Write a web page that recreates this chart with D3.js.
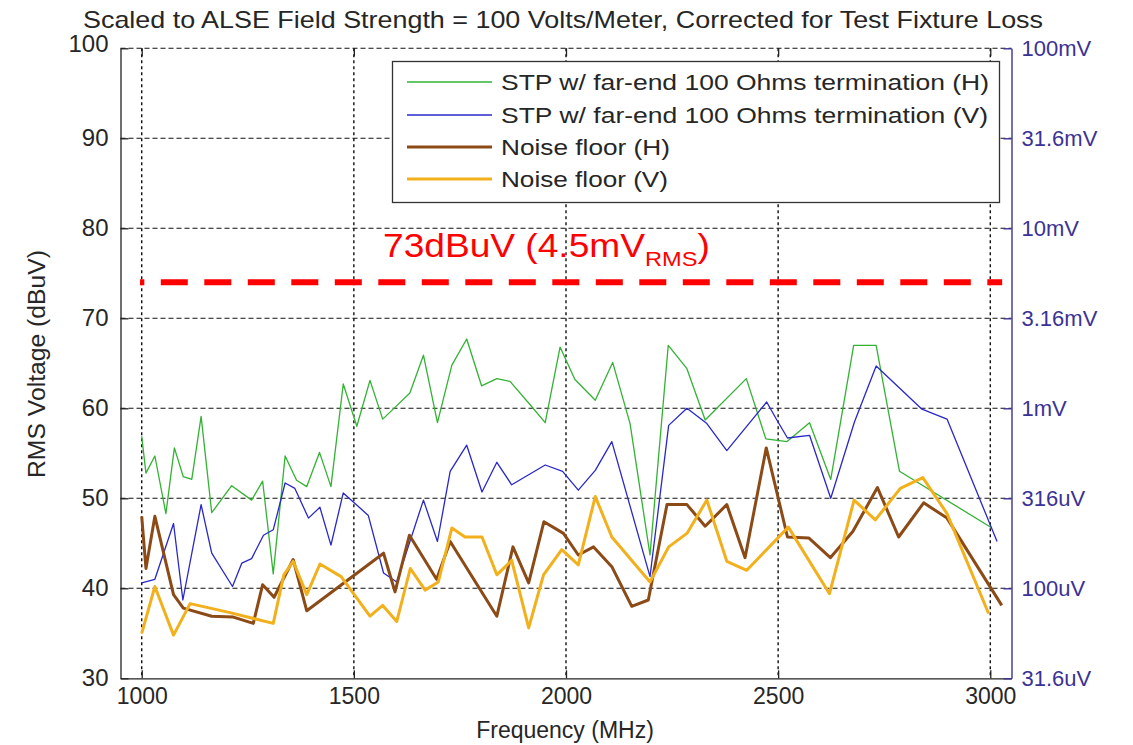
<!DOCTYPE html>
<html><head><meta charset="utf-8">
<script src="https://cdn.jsdelivr.net/npm/d3@7"></script>
<style>
body{margin:0;background:#fff}
text{font-family:"Liberation Sans",Arial,sans-serif}
</style>
</head><body>
<svg id="chart" width="1133" height="745"></svg>
<script>
// ---------------- data ----------------
const freqTicks = [1000, 1500, 2000, 2500, 3000];
const dbTicks = [30, 40, 50, 60, 70, 80, 90, 100];
const rightTickLabels = ["31.6uV", "100uV", "316uV", "1mV", "3.16mV", "10mV", "31.6mV", "100mV"];
const seriesNames = [
  "STP w/ far-end 100 Ohms termination (H)",
  "STP w/ far-end 100 Ohms termination (V)",
  "Noise floor (H)",
  "Noise floor (V)"
];
const titleText = "Scaled to ALSE Field Strength = 100 Volts/Meter, Corrected for Test Fixture Loss";
const xLabel = "Frequency (MHz)";
const yLabel = "RMS Voltage (dBuV)";
const limitValue = 74;
const limitRange = [996, 3028];

const stpH_freq = [1000,1010,1031,1057,1077,1098,1118,1140,1165,1212,1259,1285,1310,1338,1365,1389,1419,1446,1475,1507,1538,1568,1597,1632,1664,1697,1731,1766,1801,1837,1868,1919,1951,1986,2021,2069,2110,2151,2198,2241,2285,2328,2425,2471,2521,2574,2624,2678,2731,2786,3004];
const stpH_val  = [56.9,52.8,54.7,48.3,55.6,52.4,52.1,59.1,48.4,51.4,49.8,51.9,41.6,54.7,52.0,51.3,55.1,51.3,62.7,58.0,63.1,58.8,60.1,61.7,65.9,58.4,64.8,67.7,62.5,63.3,63.0,60.2,58.4,66.8,63.2,60.9,65.1,58.3,43.7,67.0,64.4,58.7,63.3,56.6,56.3,58.4,52.1,67.0,67.0,53.0,46.7];

const stpV_freq = [1000,1031,1075,1097,1140,1165,1214,1236,1259,1287,1310,1338,1361,1393,1420,1446,1475,1534,1570,1601,1664,1697,1727,1766,1802,1837,1872,1915,1951,1992,2029,2069,2108,2198,2242,2285,2332,2379,2473,2497,2522,2574,2624,2680,2731,2839,2898,3016];
const stpV_val  = [40.6,41.0,47.2,38.7,49.3,43.9,40.2,42.8,43.3,45.9,46.5,51.7,51.1,47.8,49.0,44.8,50.6,48.1,41.7,40.7,49.8,45.2,53.0,55.9,50.7,54.0,51.5,52.7,53.7,53.0,50.9,53.1,56.3,41.3,58.1,60.0,58.3,55.3,60.7,58.7,56.7,57.0,50.0,58.5,64.7,59.9,58.8,45.2];

const noiseH_freq = [1000,1010,1031,1075,1098,1165,1216,1263,1285,1312,1357,1389,1570,1597,1631,1695,1727,1837,1875,1912,1948,1994,2029,2065,2108,2155,2194,2238,2285,2328,2379,2422,2472,2522,2572,2623,2676,2734,2784,2843,2898,3027];
const noiseH_val  = [48.0,42.2,48.0,39.3,37.8,36.9,36.8,36.1,40.4,39.0,43.2,37.5,43.9,39.6,45.9,41.0,45.2,36.9,44.6,40.6,47.4,46.1,43.7,44.6,42.4,38.0,38.7,49.3,49.3,46.9,49.3,43.4,55.6,45.7,45.6,43.4,46.3,51.2,45.7,49.5,47.8,38.1];

const noiseV_freq = [1000,1031,1075,1114,1208,1310,1335,1357,1389,1420,1470,1538,1568,1601,1633,1668,1699,1731,1762,1802,1837,1872,1912,1947,1990,2029,2069,2108,2198,2242,2285,2332,2379,2426,2524,2621,2679,2729,2788,2841,2898,2996];
const noiseV_val  = [35.0,40.2,34.8,38.3,37.3,36.1,41.5,43.0,39.3,42.7,41.3,36.9,38.1,36.3,42.2,39.8,40.7,46.7,45.7,45.7,41.5,43.1,35.6,41.5,44.3,42.6,50.2,45.7,40.7,44.6,46.1,49.8,43.0,42.0,46.8,39.4,49.8,47.6,51.1,52.3,48.3,37.2];

// ---------------- drawing ----------------
const colors = ["#33b233", "#2828c8", "#8b4a16", "#f2b01c"];
const widths = [1.3, 1.3, 3, 3];
const rightColor = "#3a3294";
const textColor = "#262626";

const svg = d3.select("#chart");
svg.append("rect").attr("width", 1133).attr("height", 745).attr("fill", "#fff");

const L = 120.5, R = 1011.5, T = 48.3, B = 678.3;
const x = d3.scaleLinear().domain([950, 3050]).range([L, R]);
const y = d3.scaleLinear().domain([30, 100]).range([B, T]);

function fit(sel, w) {
  sel.attr("textLength", w).attr("lengthAdjust", "spacingAndGlyphs");
}

// grid
const grid = svg.append("g");
grid.selectAll(".hg").data(dbTicks.filter(d => d > 30)).join("line")
  .attr("x1", L).attr("x2", R).attr("y1", d => y(d)).attr("y2", d => y(d))
  .attr("stroke", "#111").attr("stroke-width", 1.1).attr("stroke-dasharray", "5,3");
grid.selectAll(".vg").data(freqTicks).join("line")
  .attr("x1", d => x(d)).attr("x2", d => x(d)).attr("y1", T).attr("y2", B)
  .attr("stroke", "#111").attr("stroke-width", 1.4).attr("stroke-dasharray", "3,3");

// axes
const axL = svg.append("g").attr("transform", `translate(${L},0)`)
  .call(d3.axisLeft(y).tickValues(dbTicks).tickSize(-8).tickSizeOuter(0).tickPadding(12));
const axB = svg.append("g").attr("transform", `translate(0,${B})`)
  .call(d3.axisBottom(x).tickValues(freqTicks).tickSize(-8).tickSizeOuter(0).tickPadding(9).tickFormat(d3.format("d")));
const axT = svg.append("g").attr("transform", `translate(0,${T})`)
  .call(d3.axisTop(x).tickValues(freqTicks).tickSize(-8).tickFormat(""));
axT.select(".domain").remove();
const axR = svg.append("g").attr("transform", `translate(${R},0)`)
  .call(d3.axisRight(y).tickValues(dbTicks).tickSize(-8).tickSizeOuter(0).tickPadding(10)
    .tickFormat((d, i) => rightTickLabels[i]));

[axL, axB, axT].forEach(a => {
  a.selectAll("path,line").attr("stroke", "#222").attr("stroke-width", 1.3);
  a.selectAll("text").attr("fill", textColor).attr("font-family", "Liberation Sans, Arial, sans-serif");
});
axL.selectAll("text").attr("font-size", 24);
axL.selectAll(".tick").filter(d => d === 100).select("text").attr("dy", "0.15em");
axB.selectAll("text").attr("font-size", 23);
axR.selectAll("path,line").attr("stroke", rightColor).attr("stroke-width", 1.4);
axR.selectAll("text").attr("fill", rightColor).attr("font-size", 22)
  .attr("font-family", "Liberation Sans, Arial, sans-serif");

// series
const series = [
  [stpH_freq, stpH_val], [stpV_freq, stpV_val], [noiseH_freq, noiseH_val], [noiseV_freq, noiseV_val]
];
const line = d3.line().x(d => x(d[0])).y(d => y(d[1]));
series.forEach((s, i) => {
  const pts = s[0].map((f, k) => [f, s[1][k]]);
  svg.append("path").datum(pts).attr("d", line)
    .attr("fill", "none").attr("stroke", colors[i]).attr("stroke-width", widths[i])
    .attr("stroke-linejoin", "round");
});

// limit line
svg.append("line")
  .attr("x1", x(limitRange[0])).attr("x2", x(limitRange[1]))
  .attr("y1", y(limitValue)).attr("y2", y(limitValue))
  .attr("stroke", "#ff0000").attr("stroke-width", 6)
  .attr("stroke-dasharray", "27,16.5").attr("stroke-dashoffset", -(378.3 - x(limitRange[0]) - 5 * 43.5));

// limit label
const lab = svg.append("text").attr("x", 383).attr("y", 257).attr("font-size", 33).attr("fill", "#ff0000");
lab.append("tspan").text("73dBuV (4.5mV");
lab.append("tspan").attr("font-size", 21).attr("dy", 9).text("RMS");
lab.append("tspan").attr("dy", -9).text(")");
{
  const w = lab.node().getBBox().width;
  const s = 327 / w;
  lab.attr("transform", `translate(383,0) scale(${s},1) translate(-383,0)`);
}

// legend
const lg = svg.append("g");
lg.append("rect").attr("x", 392.5).attr("y", 61.5).attr("width", 607).attr("height", 141)
  .attr("fill", "#fff").attr("stroke", "#333").attr("stroke-width", 1.3);
const rowsY = [82, 115, 147, 179];
const legW = [488, 487, 169, 167];
seriesNames.forEach((n, i) => {
  lg.append("line").attr("x1", 407).attr("x2", 492).attr("y1", rowsY[i]).attr("y2", rowsY[i])
    .attr("stroke", colors[i]).attr("stroke-width", i < 2 ? 1.5 : 3.2);
  lg.append("text").attr("x", 501).attr("y", rowsY[i]).attr("dy", "0.36em")
    .attr("font-size", 22).attr("fill", textColor).text(n).call(fit, legW[i]);
});

// title & labels
svg.append("text").attr("x", 83).attr("y", 28).attr("font-size", 24).attr("fill", textColor)
  .text(titleText).call(fit, 960);
svg.append("text").attr("x", 565).attr("y", 738).attr("text-anchor", "middle")
  .attr("font-size", 23).attr("fill", textColor).text(xLabel);
svg.append("text").attr("transform", "translate(45,364) rotate(-90)").attr("text-anchor", "middle")
  .attr("font-size", 23).attr("fill", textColor).text(yLabel).call(fit, 228);
</script>
</body></html>
